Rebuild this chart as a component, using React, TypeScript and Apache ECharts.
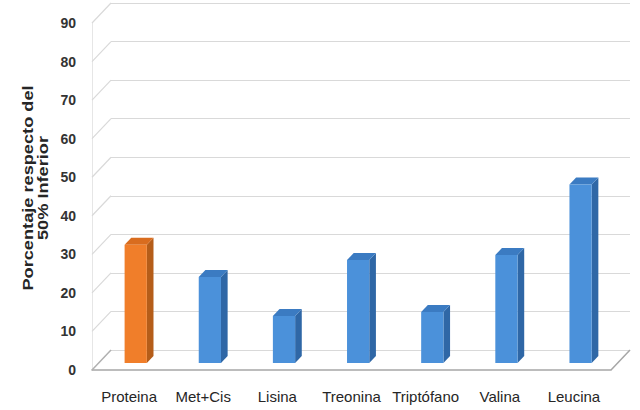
import React, { useEffect, useRef } from "react";
import * as echarts from "echarts";

const categories = ["Proteina", "Met+Cis", "Lisina", "Treonina", "Triptófano", "Valina", "Leucina"];
const values = [30.7, 22.3, 12.2, 26.7, 13.2, 28.0, 46.3];
const highlighted = "Proteina";
const tickValues = [0, 10, 20, 30, 40, 50, 60, 70, 80, 90];
const yMin = 0;
const yMax = 90;
const yStep = 10;
const titleLines = ["Porcentaje respecto del", "50% Inferior"];

// 3D geometry (pixels)
const DEPTH_X = 19;
const DEPTH_Y = -20;
const BAR_FRONT = 0.35; // fraction of depth for bar front face
const BAR_BACK = 0.7;
const BAR_WIDTH_FRAC = 0.3;

const ORANGE = { front: "#f07e2a", side: "#b55d19", top: "#d96c1e" };
const BLUE = { front: "#4b91da", side: "#2f67a6", top: "#3b7bc2" };

export default function App() {
  const ref = useRef<HTMLDivElement>(null);
  useEffect(() => {
    if (!ref.current) return;
    const chart = echarts.init(ref.current, undefined, { renderer: "svg" });
    const option: any = {
      animation: false,
      backgroundColor: "#ffffff",
      grid: [
        { left: 92, right: 29, top: 23, bottom: 40 },
        { left: 92 + DEPTH_X, right: 29 - DEPTH_X, top: 23 + DEPTH_Y, bottom: 40 - DEPTH_Y },
      ],
      xAxis: [
        {
          type: "category",
          gridIndex: 0,
          data: categories,
          axisLine: { show: true, lineStyle: { color: "#a6a6a6", width: 1.5 } },
          axisTick: { show: false },
          axisLabel: {
            interval: 0,
            margin: 19,
            color: "#262626",
            fontSize: 15,
            fontFamily: "'Liberation Sans', Arial, sans-serif",
          },
          splitLine: { show: false },
        },
        {
          type: "category",
          gridIndex: 1,
          data: categories,
          show: false,
        },
      ],
      yAxis: [
        {
          type: "value",
          gridIndex: 0,
          min: yMin,
          max: yMax,
          interval: yStep,
          axisLine: { show: true, lineStyle: { color: "#e6e6e6", width: 1 } },
          axisTick: { show: false },
          axisLabel: {
            margin: 16,
            color: "#333333",
            fontSize: 14,
            fontWeight: "bold",
            fontFamily: "'Liberation Sans', Arial, sans-serif",
          },
          splitLine: { show: false },
        },
        {
          type: "value",
          gridIndex: 1,
          min: yMin,
          max: yMax,
          interval: yStep,
          axisLine: { show: false },
          axisTick: { show: false },
          axisLabel: { show: false },
          splitLine: { show: true, lineStyle: { color: "#d9d9d9", width: 1.2 } },
        },
      ],
      graphic: [
        {
          type: "text",
          x: 35,
          y: 188,
          rotation: Math.PI / 2,
          scaleX: 1.3,
          scaleY: 1,
          style: {
            text: titleLines.join("\n"),
            fontSize: 14,
            fontWeight: "bold",
            lineHeight: 15,
            fontFamily: "'Liberation Sans', Arial, sans-serif",
            fill: "#262626",
            align: "center",
            verticalAlign: "middle",
          },
        },
      ],
      series: [
        {
          type: "custom",
          name: "walls",
          xAxisIndex: 0,
          yAxisIndex: 0,
          silent: true,
          z: 1,
          data: tickValues.map((v) => [0, v]),
          renderItem: (params: any, api: any) => {
            const cs = params.coordSys;
            const v = api.value(1);
            const p = api.coord([0, v]);
            const y = p[1];
            const children: any[] = [
              {
                type: "line",
                shape: { x1: cs.x, y1: y, x2: cs.x + DEPTH_X, y2: y + DEPTH_Y },
                style: { stroke: v === 0 ? "#b0b0b0" : "#d9d9d9", lineWidth: v === 0 ? 1.5 : 1.2 },
              },
            ];
            if (v === 0) {
              children.push({
                type: "line",
                shape: {
                  x1: cs.x + cs.width,
                  y1: y,
                  x2: cs.x + cs.width + DEPTH_X,
                  y2: y + DEPTH_Y,
                },
                style: { stroke: "#a6a6a6", lineWidth: 1.5 },
              });
            }
            return { type: "group", children };
          },
        },
        {
          type: "custom",
          name: "bars",
          xAxisIndex: 0,
          yAxisIndex: 0,
          z: 5,
          data: values.map((v, i) => [i, v]),
          renderItem: (params: any, api: any) => {
            const i = api.value(0);
            const v = api.value(1);
            const base = api.coord([i, 0]);
            const top = api.coord([i, v]);
            const band = api.size([1, 0])[0];
            const w = band * BAR_WIDTH_FRAC;
            const fx = base[0] - w / 2 + DEPTH_X * BAR_FRONT;
            const fyB = base[1] + DEPTH_Y * BAR_FRONT;
            const fyT = top[1] + DEPTH_Y * BAR_FRONT;
            const ddx = DEPTH_X * (BAR_BACK - BAR_FRONT);
            const ddy = DEPTH_Y * (BAR_BACK - BAR_FRONT);
            const c = categories[i] === highlighted ? ORANGE : BLUE;
            return {
              type: "group",
              children: [
                {
                  type: "polygon",
                  shape: { points: [[fx + w, fyT], [fx + w + ddx, fyT + ddy], [fx + w + ddx, fyB + ddy], [fx + w, fyB]] },
                  style: { fill: c.side },
                },
                {
                  type: "polygon",
                  shape: { points: [[fx, fyT], [fx + w, fyT], [fx + w + ddx, fyT + ddy], [fx + ddx, fyT + ddy]] },
                  style: { fill: c.top },
                },
                {
                  type: "rect",
                  shape: { x: fx, y: fyT, width: w, height: fyB - fyT },
                  style: { fill: c.front },
                },
              ],
            };
          },
        },
      ],
    };
    chart.setOption(option);
    return () => chart.dispose();
  }, []);
  return (
    <div
      ref={ref}
      style={{ position: "fixed", left: 0, top: 0, width: 640, height: 410 }}
    />
  );
}
